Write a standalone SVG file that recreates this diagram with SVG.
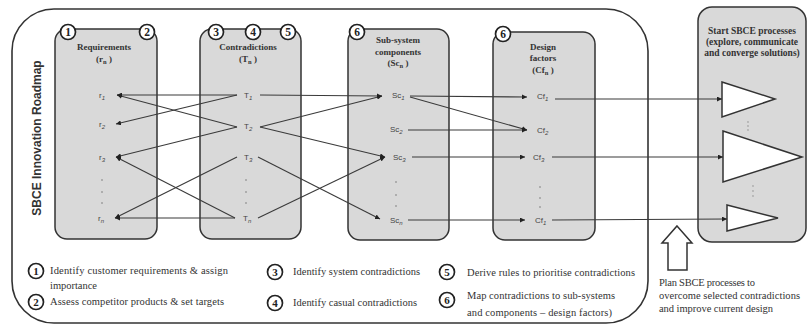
<svg xmlns="http://www.w3.org/2000/svg" width="808" height="327" viewBox="0 0 808 327">
<defs>
<style>
.box{fill:#d9d9d9;stroke:#333;stroke-width:1.5}
.outer{fill:#fff;stroke:#333;stroke-width:1.6}
.cir{fill:#fff;stroke:#222;stroke-width:1.7}
.num{font-family:"Liberation Serif",serif;font-weight:bold;font-size:11.5px;fill:#222;text-anchor:middle}
.lnum{font-family:"Liberation Serif",serif;font-weight:bold;font-size:11px;fill:#222;text-anchor:middle}
.hd{font-family:"Liberation Serif",serif;font-weight:bold;font-size:9px;fill:#333;text-anchor:middle}
.hd2{font-family:"Liberation Serif",serif;font-weight:bold;font-size:9.5px;fill:#333;text-anchor:middle}
.lbl{font-family:"Liberation Sans",sans-serif;font-size:8px;fill:#444}
.sub{font-size:6px;font-style:italic}
.leg{font-family:"Liberation Serif",serif;font-size:10.5px;fill:#333}
.dot{fill:#777}
.ldot{fill:#aaa}
.cn{stroke:#3a3a3a;stroke-width:1.1;fill:none;marker-end:url(#ah)}
.tri{fill:#fff;stroke:#333;stroke-width:1.5}
</style>
<marker id="ah" viewBox="0 0 6 6" refX="6" refY="3" markerWidth="5" markerHeight="5" orient="auto" markerUnits="userSpaceOnUse"><path d="M0,0 L6,3 L0,6 z" fill="#222"/></marker>
</defs>

<g id="roadmap">
<rect class="outer" x="12" y="9" width="636" height="314" rx="42" ry="42"/>
<text transform="translate(40.5,138) rotate(-90)" text-anchor="middle" font-family="Liberation Sans, sans-serif" font-weight="bold" font-size="12" fill="#333">SBCE Innovation Roadmap</text>
</g>

<g id="requirements">
<rect class="box" x="55" y="29" width="102" height="210" rx="12"/>
<circle class="cir" cx="68" cy="32" r="7.5"/><text class="num" x="68" y="36">1</text>
<circle class="cir" cx="147" cy="32" r="7.5"/><text class="num" x="147" y="36">2</text>
<text class="hd" x="104" y="50">Requirements</text>
<text class="hd" x="104" y="62">(r<tspan font-size="6.5" dy="1.5">n</tspan><tspan dy="-1.5"> )</tspan></text>
<text class="lbl" x="99" y="98">r<tspan class="sub" dy="1.5">1</tspan></text>
<text class="lbl" x="99" y="127">r<tspan class="sub" dy="1.5">2</tspan></text>
<text class="lbl" x="99" y="160">r<tspan class="sub" dy="1.5">3</tspan></text>
<text class="lbl" x="98" y="221">r<tspan class="sub" dy="1.5">n</tspan></text>
<circle class="dot" cx="102" cy="180" r="0.8"/><circle class="dot" cx="102" cy="192" r="0.8"/><circle class="dot" cx="102" cy="203" r="0.8"/>
</g>

<g id="contradictions">
<rect class="box" x="200" y="29" width="101" height="210" rx="12"/>
<circle class="cir" cx="216" cy="32" r="7.5"/><text class="num" x="216" y="36">3</text>
<circle class="cir" cx="253" cy="32" r="7.5"/><text class="num" x="253" y="36">4</text>
<circle class="cir" cx="288" cy="32" r="7.5"/><text class="num" x="288" y="36">5</text>
<text class="hd" x="248" y="50">Contradictions</text>
<text class="hd" x="248" y="62">(T<tspan font-size="6.5" dy="1.5">n</tspan><tspan dy="-1.5"> )</tspan></text>
<text class="lbl" x="244" y="98">T<tspan class="sub" dy="1.5">1</tspan></text>
<text class="lbl" x="244" y="129">T<tspan class="sub" dy="1.5">2</tspan></text>
<text class="lbl" x="244" y="160">T<tspan class="sub" dy="1.5">3</tspan></text>
<text class="lbl" x="243" y="221">T<tspan class="sub" dy="1.5">n</tspan></text>
<circle class="dot" cx="246" cy="180" r="0.8"/><circle class="dot" cx="246" cy="192" r="0.8"/><circle class="dot" cx="246" cy="203" r="0.8"/>
</g>

<g id="subsystems">
<rect class="box" x="348" y="29" width="101" height="211" rx="12"/>
<circle class="cir" cx="357" cy="32" r="7.5"/><text class="num" x="357" y="36">6</text>
<text class="hd" x="398" y="43">Sub-system</text>
<text class="hd" x="398" y="55">components</text>
<text class="hd" x="398" y="66">(Sc<tspan font-size="6.5" dy="1.5">n</tspan><tspan dy="-1.5"> )</tspan></text>
<text class="lbl" x="392" y="98">Sc<tspan class="sub" dy="1.5">1</tspan></text>
<text class="lbl" x="390" y="132">Sc<tspan class="sub" dy="1.5">2</tspan></text>
<text class="lbl" x="393" y="160">Sc<tspan class="sub" dy="1.5">3</tspan></text>
<text class="lbl" x="390" y="223">Sc<tspan class="sub" dy="1.5">n</tspan></text>
<circle class="dot" cx="396" cy="182" r="0.8"/><circle class="dot" cx="396" cy="195" r="0.8"/><circle class="dot" cx="396" cy="206" r="0.8"/>
</g>

<g id="designfactors">
<rect class="box" x="493" y="32" width="102" height="208" rx="12"/>
<circle class="cir" cx="503" cy="34" r="7.5"/><text class="num" x="503" y="38">6</text>
<text class="hd" x="543" y="50">Design</text>
<text class="hd" x="543" y="61">factors</text>
<text class="hd" x="543" y="73">(Cf<tspan font-size="6.5" dy="1.5">n</tspan><tspan dy="-1.5"> )</tspan></text>
<text class="lbl" x="537" y="99">Cf<tspan class="sub" dy="1.5">1</tspan></text>
<text class="lbl" x="537" y="133">Cf<tspan class="sub" dy="1.5">2</tspan></text>
<text class="lbl" x="533" y="160">Cf<tspan class="sub" dy="1.5">3</tspan></text>
<text class="lbl" x="535" y="223">Cf<tspan class="sub" dy="1.5">1</tspan></text>
<circle class="dot" cx="540" cy="187" r="0.8"/><circle class="dot" cx="540" cy="198" r="0.8"/><circle class="dot" cx="540" cy="207" r="0.8"/>
</g>

<g id="start-sbce">
<rect class="box" x="698" y="7" width="108" height="235" rx="14"/>
<text class="hd2" x="752" y="34">Start SBCE processes</text>
<text class="hd2" x="752" y="45">(explore, communicate</text>
<text class="hd2" x="752" y="56">and converge solutions)</text>
<polygon class="tri" points="722,82 775,99 722,117"/>
<polygon class="tri" points="723,131 802,157 723,182"/>
<polygon class="tri" points="727,205 778,218 727,231"/>
<circle class="ldot" cx="748" cy="122" r="0.9"/><circle class="ldot" cx="748" cy="126" r="0.9"/><circle class="ldot" cx="748" cy="130" r="0.9"/>
<circle class="ldot" cx="753" cy="186" r="0.9"/><circle class="ldot" cx="753" cy="191" r="0.9"/><circle class="ldot" cx="753" cy="196" r="0.9"/>
</g>

<g id="plan-arrow">
<polygon points="677,226 692,243 687,243 687,270 668,270 668,243 662,243" fill="#fff" stroke="#333" stroke-width="1.5" stroke-linejoin="miter"/>
<text class="leg" x="659" y="286" textLength="96" lengthAdjust="spacing">Plan SBCE processes to</text>
<text class="leg" x="659" y="299" textLength="141" lengthAdjust="spacing">overcome selected contradictions</text>
<text class="leg" x="659" y="312" textLength="114" lengthAdjust="spacing">and improve current design</text>
</g>

<g id="legend" xml:space="preserve">
<circle class="cir" cx="36" cy="271" r="7.5"/><text class="lnum" x="36" y="275">1</text>
<text class="leg" x="50" y="274" textLength="178" lengthAdjust="spacing">Identify customer requirements  &amp; assign</text>
<text class="leg" x="50" y="289" textLength="47" lengthAdjust="spacing">importance</text>
<circle class="cir" cx="36" cy="302" r="7.5"/><text class="lnum" x="36" y="306">2</text>
<text class="leg" x="50" y="305" textLength="174" lengthAdjust="spacing">Assess competitor products &amp; set targets</text>
<circle class="cir" cx="275" cy="272" r="7.5"/><text class="lnum" x="275" y="276">3</text>
<text class="leg" x="293" y="275" textLength="127" lengthAdjust="spacing">Identify system contradictions</text>
<circle class="cir" cx="275" cy="303" r="7.5"/><text class="lnum" x="275" y="307">4</text>
<text class="leg" x="293" y="306" textLength="124" lengthAdjust="spacing">Identify casual contradictions</text>
<circle class="cir" cx="447" cy="272" r="7.5"/><text class="lnum" x="447" y="276">5</text>
<text class="leg" x="467" y="276" textLength="168" lengthAdjust="spacing">Derive rules to prioritise contradictions</text>
<circle class="cir" cx="447" cy="300" r="7.5"/><text class="lnum" x="447" y="304">6</text>
<text class="leg" x="467" y="299" textLength="148" lengthAdjust="spacing">Map contradictions to sub-systems</text>
<text class="leg" x="467" y="316" textLength="145" lengthAdjust="spacing">and  components – design factors)</text>
</g>

<g id="connectors">
<path class="cn" d="M237,95 L117,95"/>
<path class="cn" d="M237,95 L116,124"/>
<path class="cn" d="M237,127 L117,95"/>
<path class="cn" d="M237,127 L116,157"/>
<path class="cn" d="M237,157 L115,218"/>
<path class="cn" d="M235,218 L116,157"/>
<path class="cn" d="M235,218 L115,218"/>
<path class="cn" d="M260,95 L382,96"/>
<path class="cn" d="M260,127 L382,96"/>
<path class="cn" d="M260,127 L385,157"/>
<path class="cn" d="M258,157 L380,219"/>
<path class="cn" d="M258,218 L385,157"/>
<path class="cn" d="M410,96 L527,97"/>
<path class="cn" d="M410,97 L527,130"/>
<path class="cn" d="M408,130 L527,130"/>
<path class="cn" d="M412,157 L525,157"/>
<path class="cn" d="M408,220 L525,220"/>
<path class="cn" d="M555,99 L722,99"/>
<path class="cn" d="M552,157 L723,157"/>
<path class="cn" d="M552,220 L727,219"/>
</g>
</svg>
